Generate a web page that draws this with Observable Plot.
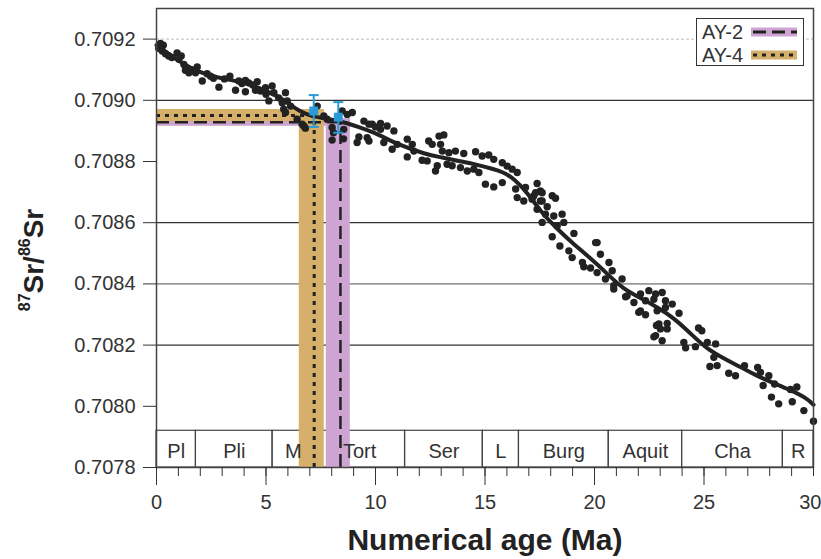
<!DOCTYPE html>
<html><head><meta charset="utf-8">
<script src="https://cdn.jsdelivr.net/npm/d3@7"></script>
<script src="https://cdn.jsdelivr.net/npm/@observablehq/plot@0.6"></script>
<style>
body{margin:0;background:#fff;}
#wrap{position:relative;width:821px;height:559px;font-family:"Liberation Sans",Arial,sans-serif;}
#legend{position:absolute;left:696px;top:18px;}
</style></head>
<body><div id="wrap"></div>
<script>
// ---- data ----
const yTicks = [0.7078, 0.7080, 0.7082, 0.7084, 0.7086, 0.7088, 0.7090, 0.7092];
const xMajor = [0, 5, 10, 15, 20, 25];
const xMajorLast = [30];
const xMinor = [0,1,2,3,4,5,6,7,8,9,10,11,12,13,14,15,16,17,18,19,20,21,22,23,24,25,26,27,28,29,30];
const gridDark = [0.7090, 0.7086, 0.7082];
const gridMid = [0.7084];
const gridLight = [0.7092];

const stageNames = ["Pl","Pli","M","Tort","Ser","L","Burg","Aquit","Cha","R"];
const stageStart = [0, 1.8, 5.3, 7.2, 11.35, 14.9, 16.55, 20.65, 24.0, 28.6];
const stageEnd   = [1.8, 5.3, 7.2, 11.35, 14.9, 16.55, 20.65, 24.0, 28.6, 30];

// LOWESS reference curve (age Ma, 87Sr/86Sr)
const curveAge = [0,0.5,1.25,2.0,2.8,3.5,4.3,5.05,5.8,6.3,6.8,7.3,8.25,9.2,10.2,10.85,12.35,13.0,13.9,14.5,15.4,15.8,16.3,16.95,17.5,18.3,19.05,19.8,20.6,21.3,22.1,22.9,23.6,24.4,25.1,25.9,26.7,27.4,28.2,28.9,29.7,30];
const curveSr  = [0.709180,0.709155,0.709117,0.709090,0.709074,0.709065,0.709052,0.709030,0.709003,0.708975,0.708955,0.708945,0.708935,0.708914,0.708887,0.708860,0.708822,0.708814,0.708800,0.708792,0.708775,0.708766,0.708746,0.708697,0.708640,0.708579,0.708530,0.708485,0.708432,0.708384,0.708354,0.708322,0.708290,0.708237,0.708189,0.708156,0.708127,0.708100,0.708075,0.708055,0.708026,0.708005];

// seawater reference samples [age Ma, 87Sr/86Sr]
const samples = [
[0.18,0.709186],[0.31,0.709180],[0.26,0.709161],[0.41,0.709152],[0.56,0.709145],[0.94,0.709155],[1.13,0.709145],[1.02,0.709134],[1.25,0.709117],[1.32,0.709098],[1.48,0.709090],[1.86,0.709109],[1.78,0.709090],[2.09,0.709063],[2.31,0.709087],[2.47,0.709079],[2.85,0.709043],[3.35,0.709079],[3.61,0.709033],[3.76,0.709063],[4.06,0.709065],[4.06,0.709028],[4.21,0.709057],[4.60,0.709061],[4.52,0.709033],[4.75,0.709030],[4.98,0.709041],[5.28,0.709047],[5.36,0.709025],[5.13,0.708998],[5.58,0.709008],[5.89,0.709025],[5.74,0.708992],[5.97,0.708998],[5.81,0.708971],[5.89,0.708960],[6.12,0.708981],[6.42,0.708938],[6.73,0.708916],[6.80,0.708909],[7.34,0.708981],[7.64,0.708949],[7.79,0.708938],[8.02,0.708911],[8.48,0.708965],[8.71,0.708954],[8.94,0.708960],[8.55,0.708905],[9.24,0.708880],[9.47,0.708932],[9.85,0.708922],[10.23,0.708905],
[0.10,0.709170],[0.70,0.709140],[1.60,0.709100],[2.60,0.709072],[3.10,0.709070],[3.90,0.709055],[4.40,0.709050],[5.00,0.709020],
[6.65,0.708922],[8.08,0.708894],[8.54,0.708874],[8.02,0.708870],[9.16,0.708862],[9.62,0.708878],[10.53,0.708916],[10.76,0.708840],[10.99,0.708856],
[9.70,0.708922],[10.00,0.708913],[10.23,0.708924],[10.84,0.708900],[9.70,0.708867],[10.38,0.708862],[11.45,0.708873],[11.68,0.708856],[11.45,0.708815],[11.75,0.708834],[12.43,0.708867],[12.59,0.708856],[12.90,0.708883],[13.12,0.708887],[12.97,0.708856],[13.05,0.708834],[13.35,0.708829],[13.65,0.708834],[14.03,0.708826],[14.57,0.708832],[14.87,0.708818],[15.17,0.708821],[15.40,0.708807],[15.79,0.708796],[16.01,0.708785],[16.24,0.708775],[16.47,0.708764],[12.13,0.708804],[12.36,0.708802],[12.82,0.708786],[12.74,0.708769],[13.27,0.708791],[13.50,0.708786],[13.88,0.708780],[14.19,0.708769],[14.49,0.708775],[14.72,0.708764],[15.02,0.708726],[15.40,0.708717],[15.79,0.708731],[16.40,0.708710],[16.47,0.708682],[16.85,0.708715],[16.77,0.708671],[17.38,0.708728],[17.53,0.708704],[17.23,0.708688],[17.61,0.708671],[18.07,0.708688],[17.84,0.708652],
[17.31,0.708698],[17.61,0.708698],[17.15,0.708677],[17.53,0.708671],[18.22,0.708680],[17.38,0.708644],[17.76,0.708628],[18.14,0.708622],[18.52,0.708628],[17.61,0.708601],[18.60,0.708601],[18.30,0.708590],[18.07,0.708554],[19.06,0.708565],[18.42,0.708524],[18.83,0.708508],[18.98,0.708486],[20.12,0.708535],[20.27,0.708497],[19.51,0.708456],[19.82,0.708452],[20.12,0.708437],[20.66,0.708470],[20.81,0.708443],[20.50,0.708416],[21.26,0.708416],[20.88,0.708383],[21.42,0.708358],[21.80,0.708339],[22.10,0.708367],[22.48,0.708378],[22.79,0.708367],[23.09,0.708372],[22.33,0.708345],[22.71,0.708350],[23.24,0.708345],[23.55,0.708334],[22.02,0.708307],[22.33,0.708299],[22.86,0.708312],[23.24,0.708323],[22.94,0.708269],[23.32,0.708271],[23.01,0.708253],[23.32,0.708253],[22.79,0.708231],[23.09,0.708214],
[20.88,0.708394],[21.49,0.708361],[22.10,0.708312],[20.05,0.708535],[19.45,0.708470],[22.83,0.708264],
[23.86,0.708304],[22.71,0.708227],[24.08,0.708209],[24.16,0.708191],[24.61,0.708195],[24.75,0.708256],[24.90,0.708247],[25.15,0.708209],[25.53,0.708204],[25.45,0.708160],[25.27,0.708130],[25.60,0.708133],[26.13,0.708108],[26.44,0.708100],[26.85,0.708133],[27.45,0.708127],[27.58,0.708111],[27.96,0.708100],[27.70,0.708068],[28.22,0.708073],[28.08,0.708030],[28.41,0.708008],[29.03,0.708015],[29.24,0.708063],[28.95,0.708055],[29.56,0.707986],[30.00,0.707951]
];

// AY samples: bands, lines, measurement with error
const ayNames = ["AY-2", "AY-4"];
const ayColor = ["#CDA4D2", "#D6B06A"];
const aySrMid = [0.708928, 0.708950];
const aySrLo  = [0.708915, 0.708930];
const aySrHi  = [0.708940, 0.708970];
const ayAge   = [8.4, 7.2];
const ayAgeLo = [7.75, 6.52];
const ayAgeHi = [8.85, 7.66];
const ayDash  = ["13,6", "4,5"];
const measAge = [8.30, 7.18];
const measSr  = [0.708945, 0.708965];
const measLo  = [0.708894, 0.708913];
const measHi  = [0.708994, 0.709017];

// ---- build tables ----
const stages = stageNames.map((n,i)=>({name:n, x1:stageStart[i], x2:stageEnd[i]}));
const curve = curveAge.map((a,i)=>({age:a, sr:curveSr[i]}));
const ay = ayNames.map((n,i)=>({name:n, color:ayColor[i], mid:aySrMid[i], lo:aySrLo[i], hi:aySrHi[i], age:ayAge[i], a1:ayAgeLo[i], a2:ayAgeHi[i], dash:ayDash[i]}));
const meas = ayNames.map((n,i)=>({name:n, age:measAge[i], sr:measSr[i], lo:measLo[i], hi:measHi[i]}));
const yMin = 0.7078, boxTop = 0.70792;
const blue = "#2A9BD6";
const capSymbol = {draw(ctx, size){ const r = Math.sqrt(size/Math.PI); ctx.moveTo(-r,0); ctx.lineTo(r,0); }};

const bandMarks = [];
ay.forEach(d => {
  bandMarks.push(Plot.rect([d], {x1:d=>d.a1, x2:d=>d.a2, y1:yMin, y2:d=>d.hi, fill:d.color}));
  bandMarks.push(Plot.rect([d], {x1:0, x2:d=>d.a2, y1:d=>d.lo, y2:d=>d.hi, fill:d.color}));
});
const lineMarks = [];
ay.forEach(d => {
  lineMarks.push(Plot.ruleY([d], {y:"mid", x1:0, x2:"age", stroke:"#222", strokeWidth: d.name==="AY-2"?2.5:3, strokeDasharray:d.dash}));
  lineMarks.push(Plot.ruleX([d], {x:"age", y1:yMin, y2:"mid", stroke:"#222", strokeWidth: d.name==="AY-2"?2.5:3, strokeDasharray:d.dash}));
});

const chart = Plot.plot({
  width: 821, height: 559,
  marginLeft: 156, marginRight: 8, marginTop: 8, marginBottom: 92,
  x: {domain:[0,30]},
  y: {domain:[0.7078, 0.7093]},
  style: {fontFamily:"Liberation Sans, Arial, sans-serif", color:"#333", background:"#fff"},
  marks: [
    Plot.ruleY(gridLight, {stroke:"#bbb", strokeDasharray:"3,2"}),
    Plot.ruleY(gridDark, {stroke:"#333", strokeWidth:1.2}),
    Plot.ruleY(gridMid, {stroke:"#999", strokeWidth:1.8}),
    Plot.rect(stages, {x1:"x1", x2:"x2", y1:yMin, y2:boxTop, stroke:"#444", strokeWidth:1.2, fill:"none"}),
    ...bandMarks,
    Plot.text(stages, {x:d=>(d.x1+d.x2)/2, y:0.707851, text:"name", fontSize:20, fill:"#333", lineAnchor:"middle"}),
    ...lineMarks,
    Plot.dot(samples, {x:d=>d[0], y:d=>d[1], r:3.7, fill:"#222"}),
    Plot.line(curve, {x:"age", y:"sr", stroke:"#222", strokeWidth:4, curve:"basis"}),
    Plot.ruleX(meas, {x:"age", y1:"lo", y2:"hi", stroke:blue, strokeWidth:2}),
    Plot.dot(meas, {x:"age", y:"lo", symbol:capSymbol, r:5, stroke:blue, strokeWidth:2, fill:"none"}),
    Plot.dot(meas, {x:"age", y:"hi", symbol:capSymbol, r:5, stroke:blue, strokeWidth:2, fill:"none"}),
    Plot.dot(meas, {x:"age", y:"sr", symbol:"square", r:5, fill:blue}),
    Plot.frame({stroke:"#444", strokeWidth:1.5}),
    Plot.axisY({ticks:yTicks, tickFormat:d3.format(".4f"), tickSize:13, tickPadding:8, fontSize:20, label:null}),
    Plot.axisX({ticks:xMinor, tickSize:9, tickFormat:()=>"", label:null}),
    Plot.axisX({ticks:xMajor, tickSize:18, tickPadding:9, fontSize:20, label:null}),
    Plot.axisX({ticks:xMajorLast, tickSize:18, tickPadding:9, fontSize:20, label:null, textAnchor:"end", dx:8}),
    Plot.text(["Numerical age (Ma)"], {frameAnchor:"bottom", dy:73, lineAnchor:"middle", fontSize:30, fontWeight:"bold", fill:"#222"})
  ]
});
document.getElementById("wrap").appendChild(chart);

// y-axis label with superscripts
const svg = d3.select(chart);
const yl = svg.append("text")
  .attr("transform","translate(43,260) rotate(-90)")
  .attr("text-anchor","middle")
  .attr("font-family","Liberation Sans, Arial, sans-serif")
  .attr("font-weight","bold")
  .attr("fill","#222");
yl.append("tspan").attr("font-size",16).attr("dy",-13).text("87");
yl.append("tspan").attr("font-size",28).attr("dy",13).text("Sr/");
yl.append("tspan").attr("font-size",16).attr("dy",-13).text("86");
yl.append("tspan").attr("font-size",28).attr("dy",13).text("Sr");

// legend
const leg = d3.select("#wrap").append("svg").attr("id","legend").attr("width",108).attr("height",48)
  .style("font-family","Liberation Sans, Arial, sans-serif");
leg.append("rect").attr("x",0.5).attr("y",0.5).attr("width",107).attr("height",47).attr("fill","#fff").attr("stroke","#333");
ay.forEach((d,i)=>{
  const cy = 14 + i*23;
  leg.append("text").attr("x",6).attr("y",cy).attr("dy","0.36em").attr("font-size",20).attr("fill","#333").text(d.name);
  leg.append("rect").attr("x",55).attr("y",cy-4.5).attr("width",46).attr("height",9).attr("fill",d.color);
  leg.append("line").attr("x1",57).attr("x2",101).attr("y1",cy).attr("y2",cy).attr("stroke","#222").attr("stroke-width",3).attr("stroke-dasharray",d.dash);
});
</script>
</body></html>
